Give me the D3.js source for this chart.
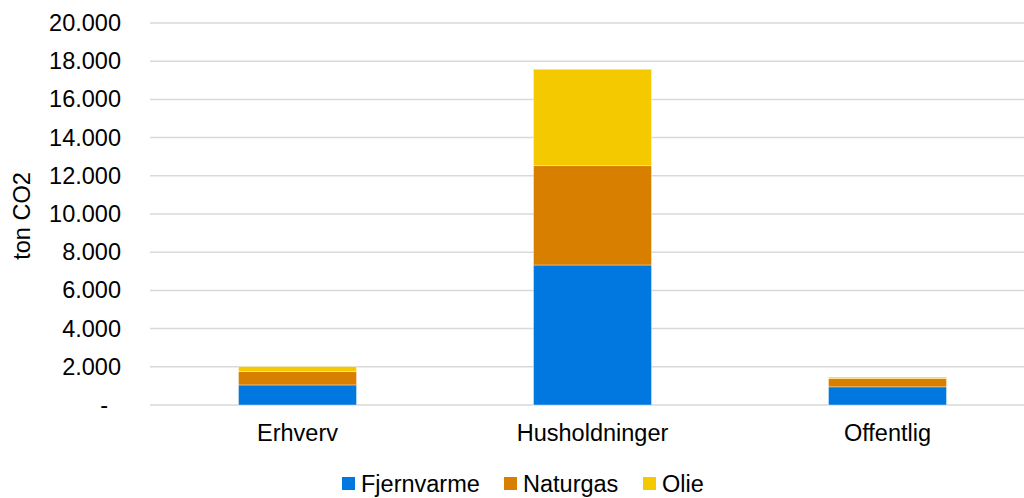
<!DOCTYPE html>
<html>
<head>
<meta charset="utf-8">
<script src="https://cdn.jsdelivr.net/npm/d3@7"></script>
<style>
  body { margin: 0; background: #fff; }
  svg { display: block; font-family: "Liberation Sans", Arial, sans-serif; }
</style>
</head>
<body>
<svg id="chart" width="1024" height="498"></svg>
<script>
const categories = ["Erhverv", "Husholdninger", "Offentlig"]
const seriesNames = ["Fjernvarme", "Naturgas", "Olie"]
const fjernvarme = [1050, 7330, 950]
const naturgas = [700, 5200, 440]
const olie = [260, 5050, 70]
const colors = ["#0078e0", "#d97f00", "#f5c900"]
const yTicks = [0, 2000, 4000, 6000, 8000, 10000, 12000, 14000, 16000, 18000, 20000]

const fontSize = 23.5

const rows = categories.map((c, i) => ({
  cat: c, Fjernvarme: fjernvarme[i], Naturgas: naturgas[i], Olie: olie[i]
}))

const svg = d3.select("#chart")

const x = d3.scaleBand()
  .domain(categories)
  .range([150, 1035])
  .paddingInner(0.6)
  .paddingOuter(0.3)

const y = d3.scaleLinear()
  .domain([0, 20000])
  .range([405, 23])

// gridlines
svg.append("g")
  .selectAll("line")
  .data(yTicks)
  .join("line")
  .attr("x1", 150).attr("x2", 1035)
  .attr("y1", d => y(d)).attr("y2", d => y(d))
  .attr("stroke", "#d9d9d9")
  .attr("stroke-width", 1.5)

// y axis labels (danish thousands separator)
const fmt = d3.formatLocale({ decimal: ",", thousands: ".", grouping: [3], currency: ["", " kr"] }).format(",")
const yAxis = d3.axisLeft(y)
  .tickValues(yTicks)
  .tickSize(0)
  .tickPadding(0)
  .tickFormat(d => d === 0 ? "-" : fmt(d))

svg.append("g")
  .attr("transform", "translate(121,0)")
  .call(yAxis)
  .call(g => g.select(".domain").remove())
  .selectAll("text")
  .attr("font-size", fontSize)
  .attr("fill", "#000")
  .attr("font-family", "Liberation Sans, Arial, sans-serif")
  .attr("dx", d => d === 0 ? -13 : 0)

// stacked bars
const stack = d3.stack().keys(seriesNames)(rows)

svg.append("g")
  .selectAll("g")
  .data(stack)
  .join("g")
  .attr("fill", (d, i) => colors[i])
  .selectAll("rect")
  .data(d => d)
  .join("rect")
  .attr("x", d => x(d.data.cat))
  .attr("width", x.bandwidth())
  .attr("y", d => y(d[1]))
  .attr("height", d => y(d[0]) - y(d[1]))
  .attr("stroke", "rgba(255,255,255,0.5)")
  .attr("stroke-width", 0.75)

// x axis labels
const xAxis = d3.axisBottom(x).tickSize(0).tickPadding(0)
svg.append("g")
  .attr("transform", "translate(0,424)")
  .call(xAxis)
  .call(g => g.select(".domain").remove())
  .selectAll("text")
  .attr("font-size", fontSize)
  .attr("fill", "#000")
  .attr("font-family", "Liberation Sans, Arial, sans-serif")

// y title
svg.append("text")
  .attr("transform", "translate(30,216) rotate(-90)")
  .attr("text-anchor", "middle")
  .attr("font-size", fontSize)
  .text("ton CO2")

// legend
const legendX = [342, 504, 643]
const legend = svg.append("g")
  .selectAll("g")
  .data(seriesNames)
  .join("g")
  .attr("transform", (d, i) => `translate(${legendX[i]},477)`)
legend.append("rect")
  .attr("width", 13).attr("height", 13)
  .attr("fill", (d, i) => colors[i])
legend.append("text")
  .attr("x", 19).attr("y", 15)
  .attr("font-size", fontSize)
  .text(d => d)
</script>
</body>
</html>
